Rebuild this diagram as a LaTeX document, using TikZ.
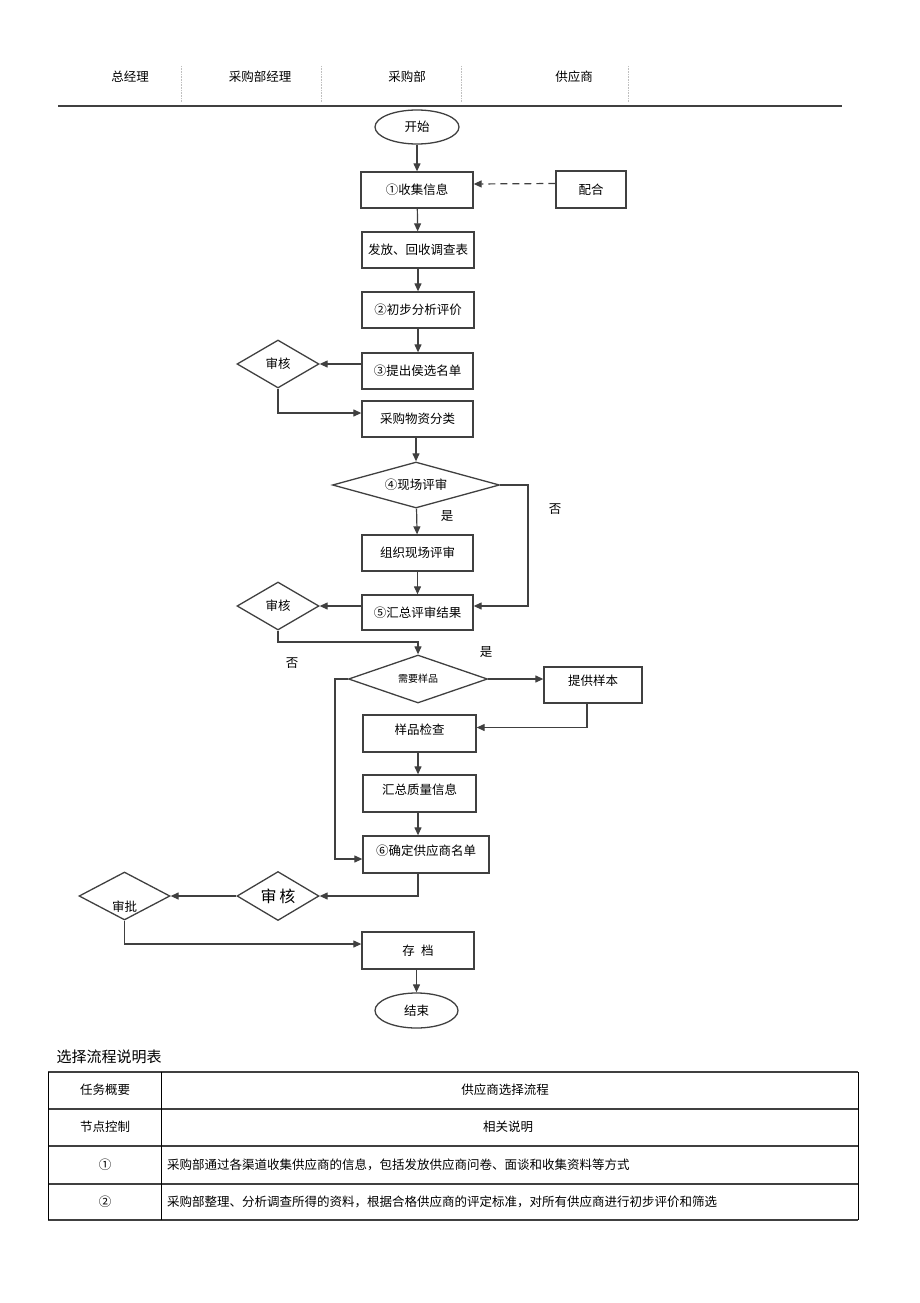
\documentclass[tikz,border=0pt]{standalone}
\usepackage{fontspec}
\setmainfont{Noto Sans CJK SC}
\usetikzlibrary{shapes.geometric}
\usetikzlibrary{arrows.meta}
\definecolor{linegray}{gray}{0.25}
\definecolor{sepgray}{gray}{0.75}

\begin{document}
\begin{tikzpicture}[x=1pt, y=-1pt,
  every node/.style = {align=center, font=\fontsize{12.5}{15}\selectfont},
  box/.style = {draw=linegray, line width=1.3pt, minimum width=112pt, minimum height=36pt, inner sep=0pt},
  terminal/.style = {ellipse, draw=linegray, line width=1.3pt, minimum width=84pt, minimum height=34pt, inner sep=0pt},
  decision/.style = {diamond, draw=linegray, line width=1.3pt, aspect=2, minimum width=82pt, minimum height=48pt, inner sep=0pt},
  flow/.style = {draw=linegray, line width=1.2pt, -{Triangle[length=8pt,width=7pt]}},
  raised/.style = {text depth=9pt},
  lowered/.style = {text height=32pt},
  cell/.style = {inner sep=0pt}]

\useasboundingbox (0,0) rectangle (920,1303);

% header of the lanes
\node (lane1) at (130,77) {总经理};
\node (lane2) at (260,77) {采购部经理};
\node (lane3) at (407,77) {采购部};
\node (lane4) at (574,77) {供应商};
\foreach \x in {181,321,461,628}
  \draw[sepgray, densely dotted, line width=0.6pt] (\x,66) -- (\x,102);
\draw[linegray, line width=2.5pt] (58,106) -- (842,106);

% flow nodes
\node[terminal] (start) at (417,127) {开始};
\node[box] (collect) at (417,190) {①收集信息};
\node[box, minimum width=70pt, minimum height=37pt] (coop) at (591,189.5) {配合};
\node[box] (survey) at (418,250) {发放、回收调查表};
\node[box] (analyze) at (418,310) {②初步分析评价};
\node[box, minimum width=111pt] (propose) at (417.5,371) {③提出侯选名单};
\node[decision] (audit1) at (278,364) {审核};
\node[box, minimum width=111pt] (classify) at (417.5,419) {采购物资分类};
\node[decision, aspect=3.5, minimum width=167pt, minimum height=46pt] (onsite) at (416,485) {④现场评审};
\node[box, minimum width=111pt] (organize) at (417.5,553) {组织现场评审};
\node[box, minimum width=111pt, minimum height=35pt] (summary) at (417.5,612.5) {⑤汇总评审结果};
\node[decision] (audit2) at (278,606) {审核};
\node[decision, aspect=3, minimum width=139pt, font=\fontsize{10}{12}\selectfont] (sample) at (418,679) {需要样品};
\node[box, minimum width=98pt, raised] (provide) at (593,685) {提供样本};
\node[box, minimum width=113pt, minimum height=37pt, raised] (check) at (419.5,733.5) {样品检查};
\node[box, minimum width=113pt, minimum height=37pt, raised] (quality) at (419.5,793.5) {汇总质量信息};
\node[box, minimum width=126pt, minimum height=37pt, raised] (confirm) at (426,854.5) {⑥确定供应商名单};
\node[decision, minimum height=49pt, font=\fontsize{16}{18}\selectfont] (audit3) at (278,896) {审\,核};
\node[decision, lowered] (approve) at (124.5,896) {审批};
\node[box, minimum height=37pt] (archive) at (418,950.5) {存\enspace 档};
\node[terminal, minimum width=83pt, minimum height=35pt] (end) at (416.5,1010.5) {结束};

% branch labels
\node (yes1) at (447,516) {是};
\node (no1) at (555,509) {否};
\node (yes2) at (486,652) {是};
\node (no2) at (292,663) {否};

% connectors
\draw[flow] (start) -- (collect);
\draw[flow, dashed, dash pattern=on 7pt off 5pt] ([yshift=6pt]coop.west) -- ([yshift=6pt]collect.east);
\draw[flow] (collect) -- (survey);
\draw[flow] (survey) -- (analyze);
\draw[flow] (analyze) -- (analyze |- propose.north);
\draw[flow] (propose.west |- audit1.east) -- (audit1.east);
\draw[flow] (audit1.south) |- ([yshift=6pt]classify.west);
\draw[flow] (classify.south -| onsite.north) -- (onsite.north);
\draw[flow] (onsite) -- (organize);
\draw[flow] (onsite.east) -- (528,485) |- ([yshift=6.5pt]summary.east);
\draw[flow] (organize) -- (summary);
\draw[flow] ([yshift=6.5pt]summary.west) -- (audit2.east);
\draw[flow] (audit2.south) |- (418,642) -- (sample.north);
\draw[flow] (sample.east) -- (sample.east -| provide.west);
\draw[flow] ([xshift=-6pt]provide.south) |- ([yshift=6pt]check.east);
\draw[flow] (check.south -| sample.north) -- (sample.north |- quality.north);
\draw[flow] (quality.south -| sample.north) -- (sample.north |- confirm.north);
\draw[flow] (sample.west) -- (335,679) |- ([yshift=-4.5pt]confirm.west);
\draw[flow] (confirm.south -| sample.north) |- (audit3.east);
\draw[flow] (audit3.west) -- (approve.east);
\draw[flow] (approve.south) |- ([yshift=6.5pt]archive.west);
\draw[flow] (archive.south -| end.north) -- (end.north);

% description table
\node[anchor=west, font=\fontsize{15}{18}\selectfont] (tabtitle) at (53,1057) {选择流程说明表};
\foreach \y in {1072,1109,1146,1184,1220}
  \draw[linegray, line width=1.6pt] (48,\y) -- (858,\y);
\draw[black, line width=1pt] (48,1072) -- (48,1220);
\draw[black, line width=1pt] (161,1072) -- (161,1220);
\draw[black, line width=1pt] (858,1072) -- (858,1220);
\node[cell] (task) at (105,1090) {任务概要};
\node[cell] (taskv) at (505,1090) {供应商选择流程};
\node[cell] (ctrl) at (105,1127) {节点控制};
\node[cell] (ctrlv) at (508,1127) {相关说明};
\node[cell] (row1) at (105,1165) {①};
\node[cell, anchor=west] (row1v) at (167,1165) {采购部通过各渠道收集供应商的信息，包括发放供应商问卷、面谈和收集资料等方式};
\node[cell] (row2) at (105,1202) {②};
\node[cell, anchor=west] (row2v) at (167,1202) {采购部整理、分析调查所得的资料，根据合格供应商的评定标准，对所有供应商进行初步评价和筛选};
\end{tikzpicture}
\end{document}
